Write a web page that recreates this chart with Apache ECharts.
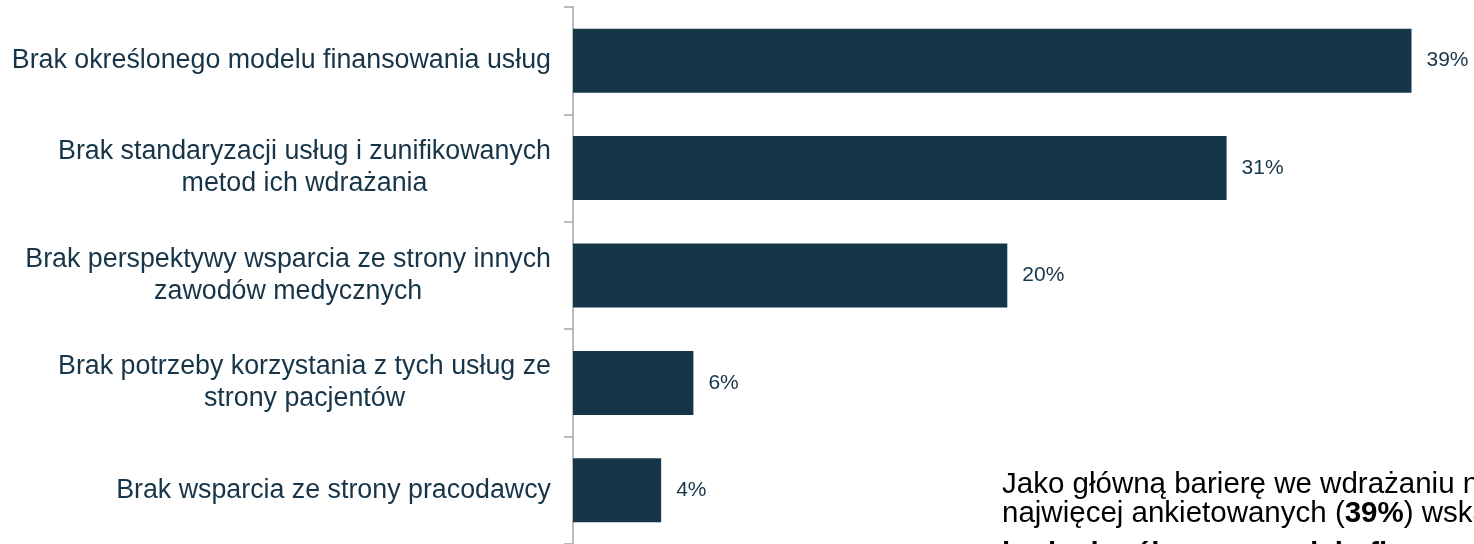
<!DOCTYPE html>
<html>
<head>
<meta charset="utf-8">
<script src="https://cdn.jsdelivr.net/npm/echarts@6/dist/echarts.min.js"></script>
<style>
  html, body { margin: 0; padding: 0; background: #fff; }
  #barChart { width: 1474px; height: 544px; }
</style>
</head>
<body>
<div id="barChart"></div>
<script>
// kategorie (od góry), długości słupków i etykiety w %
var categories = [
    'Brak określonego modelu finansowania usług',
    'Brak standaryzacji usług i zunifikowanych\nmetod ich wdrażania',
    'Brak perspektywy wsparcia ze strony innych\nzawodów medycznych',
    'Brak potrzeby korzystania z tych usług ze\nstrony pacjentów',
    'Brak wsparcia ze strony pracodawcy'
];
var values = [39, 30.4, 20.2, 5.6, 4.1];
var valueLabels = ['39%', '31%', '20%', '6%', '4%'];

var noteLines = [
    'Jako główną barierę we wdrażaniu nowych usług',
    'najwięcej ankietowanych ({b|39%}) wskazało',
    '{b3|brak określonego modelu finansowania usług}'
];

var navy = '#173549';
var font = '"Liberation Sans", Arial, sans-serif';

var myChart = echarts.init(document.getElementById('barChart'));

option = {
    animation: false,
    grid: {
        left: 573,
        top: 7,
        width: 860,
        bottom: 0
    },
    xAxis: {
        type: 'value',
        min: 0,
        max: 40,
        show: false
    },
    yAxis: {
        type: 'category',
        inverse: true,
        data: categories,
        axisLine: {
            show: true,
            lineStyle: { color: '#a6a6a6', width: 1.5 }
        },
        axisTick: {
            show: true,
            length: 9,
            lineStyle: { color: '#a6a6a6', width: 1.5 }
        },
        axisLabel: {
            margin: 22,
            align: 'right',
            formatter: function (value) {
                return value.split('\n').map(function (l) {
                    return '{c|' + l + '}';
                }).join('\n');
            },
            rich: {
                c: {
                    align: 'center',
                    fontFamily: font,
                    fontSize: 26.8,
                    lineHeight: 32,
                    color: navy
                }
            }
        }
    },
    series: [
        {
            type: 'bar',
            data: values,
            barWidth: 64,
            itemStyle: { color: navy },
            label: {
                show: true,
                position: 'right',
                distance: 15,
                fontFamily: font,
                fontSize: 21,
                color: navy,
                formatter: function (p) {
                    return valueLabels[p.dataIndex];
                }
            }
        }
    ],
    graphic: [
        {
            type: 'text',
            left: 1002,
            top: 470,
            style: {
                text: noteLines.join('\n'),
                fontFamily: font,
                fontSize: 29.5,
                lineHeight: 29,
                fill: '#000',
                rich: {
                    b: {
                        fontFamily: font,
                        fontSize: 29.5,
                        lineHeight: 29,
                        fontWeight: 'bold',
                        fill: '#000'
                    },
                    b3: {
                        fontFamily: font,
                        fontSize: 29.5,
                        lineHeight: 52,
                        fontWeight: 'bold',
                        fill: '#000'
                    }
                }
            }
        }
    ]
};

myChart.setOption(option);
</script>
</body>
</html>
